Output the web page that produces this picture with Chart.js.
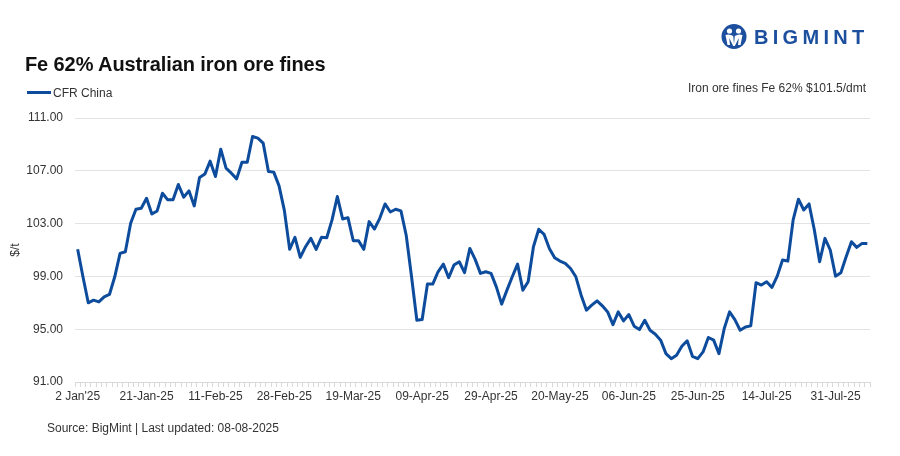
<!DOCTYPE html>
<html>
<head>
<meta charset="utf-8">
<script src="https://cdn.jsdelivr.net/npm/chart.js@4.4.0/dist/chart.umd.min.js"></script>
<style>
  body { margin: 0; background: #fff; }
  #wrap { position: relative; width: 900px; height: 456px; overflow: hidden;
          font-family: 'Liberation Sans', Arial, sans-serif; color: #222; }
  #chart { position: absolute; left: 0; top: 0; }
  .title { position: absolute; left: 25px; top: 51px; font-size: 20px; font-weight: bold; color: #111; line-height: 26px; letter-spacing: -0.1px; }
  .legend { position: absolute; left: 27px; top: 85px; font-size: 12px; line-height: 16px; color: #333; }
  .legend span.swatch { display: inline-block; width: 24px; height: 3px; background: #0d4c9c; vertical-align: middle; margin-right: 2px; position: relative; top: -1px; }
  .note { position: absolute; right: 34px; top: 80px; font-size: 12px; line-height: 16px; color: #333; }
  .source { position: absolute; left: 47px; top: 420px; font-size: 12px; line-height: 16px; color: #333; }
  .logo { position: absolute; left: 721px; top: 23px; }
  .logo-text { position: absolute; left: 754px; top: 25px; font-family: 'Liberation Sans', Arial, sans-serif;
               font-weight: bold; font-size: 20px; letter-spacing: 4.3px; color: #1c4f9e; line-height: 24px; }
</style>
</head>
<body>
<div id="wrap">
  <canvas id="chart" width="900" height="456"></canvas>
  <svg class="logo" width="27" height="28" viewBox="0 0 27 28">
    <circle cx="13" cy="13.5" r="12.5" fill="#1c4f9e"/>
    <circle cx="8.5" cy="8" r="2.6" fill="#fff"/>
    <circle cx="17.5" cy="8" r="2.6" fill="#fff"/>
    <path d="M4.5 12 Q8.5 10.5 12.2 13 L13 21 L13.8 13 Q17.5 10.5 21.5 12 L19.5 22 L17 22 L17.8 15 L13.8 23 L12.2 23 L8.2 15 L9 22 L6.5 22 Z" fill="#fff"/>
  </svg>
  <div class="logo-text">BIGMINT</div>
  <div class="title">Fe 62% Australian iron ore fines</div>
  <div class="legend"><span class="swatch"></span>CFR China</div>
  <div class="note">Iron ore fines Fe 62% $101.5/dmt</div>
  <div class="source">Source: BigMint | Last updated: 08-08-2025</div>
</div>
<script>
// CFR China, Fe 62% fines, $/t (one value per trading day, 2 Jan - 8 Aug 2025)
const price = [
  101.05, 98.97, 97.00, 97.20, 97.07, 97.45, 97.63, 98.97, 100.74, 100.87,
  103.02, 104.09, 104.16, 104.92, 103.73, 103.96, 105.30, 104.80, 104.80, 105.96,
  105.00, 105.48, 104.34, 106.49, 106.75, 107.73, 106.57, 108.64, 107.20, 106.82,
  106.39, 107.65, 107.65, 109.60, 109.48, 109.10, 106.95, 106.90, 105.86, 104.00,
  101.05, 101.96, 100.44, 101.25, 101.88, 101.05, 101.96, 101.93, 103.28, 105.05,
  103.35, 103.45, 101.70, 101.70, 101.05, 103.15, 102.59, 103.40, 104.49, 103.88,
  104.09, 103.96, 102.10, 98.97, 95.68, 95.73, 98.42, 98.42, 99.35, 99.93,
  98.90, 99.86, 100.11, 99.28, 101.12, 100.29, 99.23, 99.35, 99.23, 98.21,
  96.90, 97.96, 98.97, 99.93, 97.96, 98.60, 101.25, 102.57, 102.19, 101.12,
  100.42, 100.16, 99.99, 99.60, 98.97, 97.58, 96.44, 96.82, 97.15, 96.77,
  96.31, 95.35, 96.31, 95.63, 96.11, 95.23, 94.97, 95.68, 94.92, 94.62,
  94.17, 93.15, 92.77, 93.03, 93.71, 94.12, 92.95, 92.77, 93.28, 94.37,
  94.17, 93.15, 95.05, 96.31, 95.73, 94.92, 95.17, 95.25, 98.52, 98.34,
  98.60, 98.16, 99.02, 100.24, 100.16, 103.28, 104.85, 104.03, 104.49, 102.52,
  100.11, 101.88, 101.00, 99.02, 99.28, 100.49, 101.63, 101.20, 101.50, 101.50
];

// axis labels shown every 13th trading day
const tickLabels = ["2 Jan'25", '21-Jan-25', '11-Feb-25', '28-Feb-25', '19-Mar-25', '09-Apr-25',
                    '29-Apr-25', '20-May-25', '06-Jun-25', '25-Jun-25', '14-Jul-25', '31-Jul-25'];
const tickStep = 13;

const yTicks = [91, 95, 99, 103, 107, 111];

const labels = price.map((v, i) => (i % tickStep === 0 && tickLabels[i / tickStep]) ? tickLabels[i / tickStep] : '');

Chart.defaults.font.family = "'Liberation Sans', Arial, sans-serif";
Chart.defaults.font.size = 12;
Chart.defaults.color = '#333';

new Chart(document.getElementById('chart'), {
  type: 'line',
  data: {
    labels: labels,
    datasets: [{
      label: 'CFR China',
      data: price,
      borderColor: '#0d4c9c',
      backgroundColor: '#0d4c9c',
      borderWidth: 3,
      pointRadius: 0,
      tension: 0,
      borderJoinStyle: 'round'
    }]
  },
  options: {
    responsive: false,
    animation: false,
    layout: { padding: { left: 0, right: 30, top: 118, bottom: 0 } },
    plugins: {
      legend: { display: false },
      title: { display: false },
      tooltip: { enabled: false }
    },
    scales: {
      x: {
        offset: true,
        afterFit: function(scale) { scale.height = 74; },
        grid: { drawOnChartArea: false, offset: true, tickLength: 5, color: '#d9d9d9' },
        border: { display: true, color: '#d9d9d9' },
        ticks: { autoSkip: false, maxRotation: 0, padding: 2, color: '#333' }
      },
      y: {
        min: yTicks[0],
        max: yTicks[yTicks.length - 1],
        afterFit: function(scale) { scale.width = 75; },
        afterBuildTicks: function(scale) { scale.ticks = yTicks.map(v => ({ value: v })); },
        grid: { color: '#e3e3e3', drawTicks: false },
        border: { display: false },
        title: { display: true, text: '$/t', color: '#333', font: { size: 12 }, padding: { top: 8, bottom: 0 } },
        ticks: {
          padding: 12,
          color: '#333',
          callback: function(value) { return value.toFixed(2); }
        }
      }
    }
  }
});
</script>
</body>
</html>
